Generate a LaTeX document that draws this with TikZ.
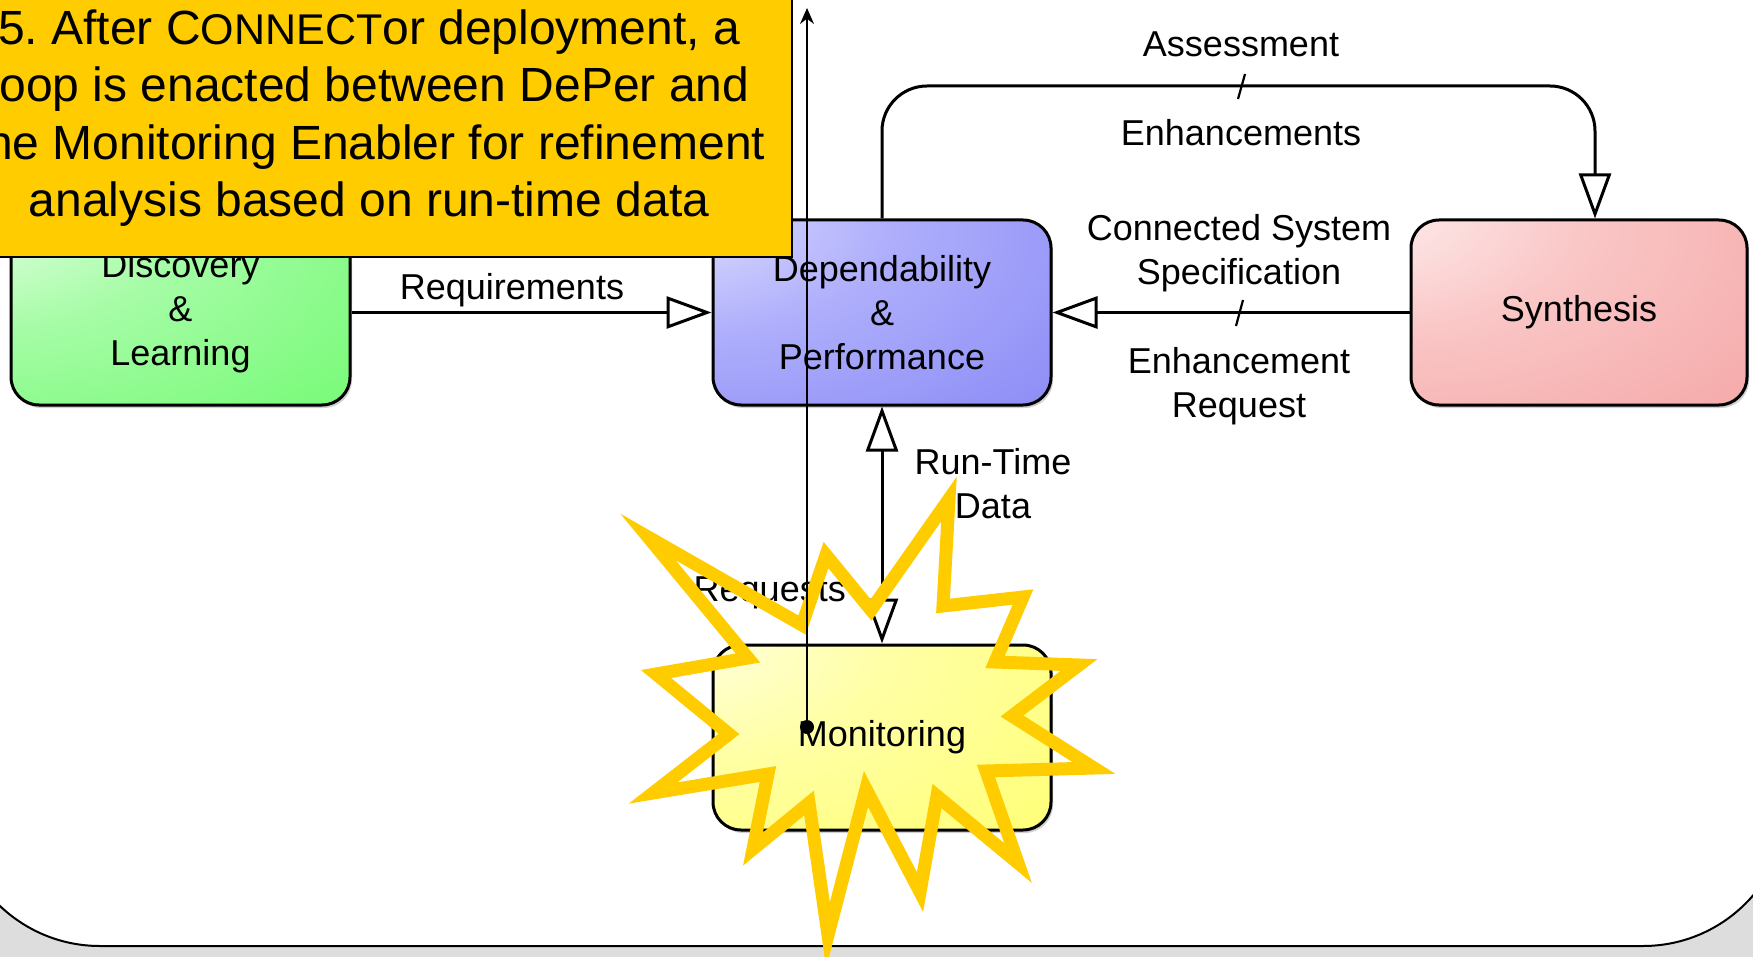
\documentclass[tikz,border=0pt]{standalone}
\usepackage{fontspec}
\setmainfont{Liberation Sans}
\usetikzlibrary{arrows.meta,shadows}
\frenchspacing
\definecolor{bggray}{HTML}{DDDDDD}
\definecolor{calloutfill}{HTML}{FFCC00}
\definecolor{gl}{RGB}{242,255,242}\definecolor{gm}{RGB}{165,252,165}\definecolor{gd}{RGB}{100,250,100}
\definecolor{bl}{RGB}{236,236,255}\definecolor{bm}{RGB}{175,175,252}\definecolor{bd}{RGB}{126,126,244}
\definecolor{rl}{RGB}{255,246,246}\definecolor{rm}{RGB}{250,198,198}\definecolor{rd}{RGB}{243,158,158}
\definecolor{yl}{RGB}{255,255,240}\definecolor{ym}{RGB}{255,255,165}\definecolor{yd}{RGB}{255,255,100}
\pgfdeclareradialshading{glowgreen}{\pgfpoint{-38bp}{32bp}}{color(0bp)=(gl);color(30bp)=(gm);color(75bp)=(gd);color(130bp)=(gd)}
\pgfdeclareradialshading{glowblue}{\pgfpoint{-38bp}{32bp}}{color(0bp)=(bl);color(30bp)=(bm);color(75bp)=(bd);color(130bp)=(bd)}
\pgfdeclareradialshading{glowred}{\pgfpoint{-38bp}{32bp}}{color(0bp)=(rl);color(30bp)=(rm);color(75bp)=(rd);color(130bp)=(rd)}
\pgfdeclareradialshading{glowyellow}{\pgfpoint{-38bp}{32bp}}{color(0bp)=(yl);color(30bp)=(ym);color(75bp)=(yd);color(130bp)=(yd)}
\newcommand\diagfont{\fontsize{36}{44}\selectfont}
\newcommand\calloutfont{\fontsize{48}{57.5}\selectfont}
\begin{document}
\begin{tikzpicture}[x=1pt,y=-1pt,
  box/.style={draw=black, line width=3pt, rounded corners=28pt, minimum width=338pt, minimum height=185pt,
    inner sep=0pt, align=center, font=\diagfont, shade,
    drop shadow={shadow xshift=2pt, shadow yshift=-3pt, opacity=0.3, fill=black!60}},
  conn/.style={line width=3pt, -{Triangle[open, length=45pt, width=32pt, fill=white]}},
  biconn/.style={line width=3pt, {Triangle[open, length=45pt, width=32pt, fill=white]}-{Triangle[open, length=45pt, width=32pt, fill=white]}},
  lbl/.style={font=\diagfont, align=center, inner sep=0pt},
  tick/.style={line width=2.2pt},
  starburst/.style={draw=calloutfill, line width=13pt, line join=miter, miter limit=10},
  callbox/.style={draw=black, line width=2.5pt, fill=calloutfill, inner sep=0pt, align=center, font=\calloutfont,
    minimum width=846pt, minimum height=278pt},
  pointer/.style={line width=1.6pt, -{Stealth[length=16pt, width=14pt]}},
]
\useasboundingbox (0,0) rectangle (1753,957);
\clip (0,0) rectangle (1753,957);
% background
\fill[bggray] (0,0) rectangle (1753,957);
\draw[fill=white, line width=2pt, rounded corners=145pt] (-45,-300) rectangle (1788,946);

% boxes
\node[box, shading=glowgreen] (disc) at (180.5,312.5) [minimum width=339pt] {Discovery\\\&\\Learning};
\node[box, shading=glowblue] (dep) at (882,312.5) {Dependability\\\&\\Performance};
\node[box, shading=glowred] (syn) at (1579,312.5) [minimum width=336pt] {Synthesis};
\node[box, shading=glowyellow] (mon) at (882,737.5) {Monitoring};

% connectors
\draw[conn] (disc.east) -- (dep.west);
\draw[conn] (syn.west) -- (dep.east);
\coordinate (loopL) at (882,86);
\coordinate (loopR) at (1595,86);
\draw[conn, rounded corners=45pt] (dep.north) -- (loopL) -- (loopR) -- (loopR |- syn.north);
\draw[biconn] (dep.south) -- (mon.north);

% ticks
\draw[tick] (1236,326) -- (1243,300);
\draw[tick] (1238,99) -- (1245,74);

% labels
\node[lbl] (lreq) at (512,290) {Requirements};
\node[lbl] (lcss) at (1239,253) {Connected System\\Specification};
\node[lbl] (lenr) at (1239,386) {Enhancement\\Request};
\node[lbl] (lass) at (1241,44) {Assessment};
\node[lbl] (lenh) at (1241,133) {Enhancements};
\node[lbl] (lrtd) at (993,484) {Run-Time\\Data};
\node[lbl, anchor=east] (lrq) at (846,593) {Requests};

% starburst
\draw[starburst] (656,674) -- (748,658) -- (648,537) -- (802,625) -- (826,555) -- (871,610)
  -- (949,499) -- (943,606) -- (1023,597) -- (995,662) -- (1079,665) -- (1012,716)
  -- (1094,768) -- (986,771) -- (1018,863) -- (937,796) -- (920,892) -- (866,789)
  -- (828,935) -- (809,803) -- (753,849) -- (768,774) -- (653,793) -- (729,734) -- cycle;

% callout
\node[callbox] (callout) at (369,118) {5. After C{\fontsize{43}{57.5}\selectfont ONNECT}or deployment, a\\loop is enacted between DePer and\\the Monitoring Enabler for refinement\\analysis based on run-time data};

% pointer
\node[circle, fill=black, inner sep=0pt, minimum size=14pt] (dot) at (807,727) {};
\coordinate (toptip) at (807,8);
\draw[pointer] (dot.center) -- (toptip);
\end{tikzpicture}
\end{document}
